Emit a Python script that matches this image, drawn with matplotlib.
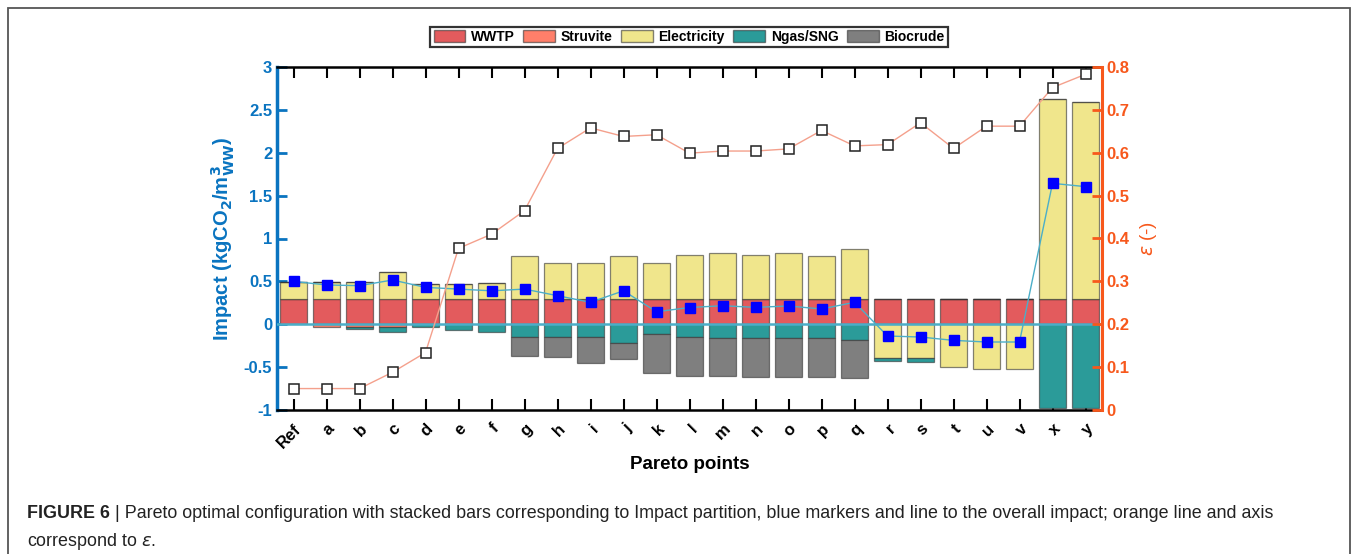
import numpy as np
import matplotlib
matplotlib.use("Agg")
import matplotlib.pyplot as plt
from matplotlib.patches import Patch, Rectangle

plt.rcParams['font.family'] = ['Liberation Sans', 'DejaVu Sans']
plt.rcParams['mathtext.fontset'] = 'dejavusans'

# ---- data ----------------------------------------------------------------
points = ['Ref', 'a', 'b', 'c', 'd', 'e', 'f', 'g', 'h', 'i', 'j', 'k', 'l',
          'm', 'n', 'o', 'p', 'q', 'r', 's', 't', 'u', 'v', 'x', 'y']

wwtp = [0.30] * 25
struvite = [0, -0.035, -0.035, -0.035, 0, 0, 0, 0, 0, 0, 0, 0, 0,
            0, 0, 0, 0, 0, 0, 0, 0, 0, 0, 0, 0]
electricity = [0.196, 0.196, 0.19, 0.313, 0.17, 0.17, 0.185, 0.496, 0.41,
               0.418, 0.496, 0.418, 0.503, 0.527, 0.511, 0.527, 0.496, 0.573,
               -0.394, -0.394, -0.495, -0.518, -0.518, 2.323, 2.292]
ngas = [0, 0, -0.02, -0.06, -0.035, -0.07, -0.087, -0.152, -0.152, -0.15,
        -0.215, -0.115, -0.152, -0.164, -0.164, -0.164, -0.164, -0.184,
        -0.03, -0.05, 0, 0, 0, -0.98, -0.98]
biocrude = [0, 0, 0, 0, 0, 0, 0, -0.215, -0.226, -0.306, -0.185, -0.457,
            -0.452, -0.44, -0.446, -0.446, -0.446, -0.439,
            0, 0, 0, 0, 0, 0, 0]

impact = [0.50, 0.458, 0.45, 0.516, 0.43, 0.41, 0.39, 0.41, 0.333, 0.256,
          0.39, 0.146, 0.195, 0.216, 0.197, 0.213, 0.178, 0.256,
          -0.137, -0.149, -0.188, -0.207, -0.207, 1.643, 1.605]
epsilon = [0.05, 0.05, 0.05, 0.088, 0.134, 0.377, 0.41, 0.465, 0.61, 0.658,
           0.638, 0.642, 0.599, 0.604, 0.604, 0.609, 0.652, 0.616, 0.619,
           0.670, 0.61, 0.662, 0.662, 0.752, 0.783]

series = [('WWTP', wwtp, '#E35B5D'),
          ('Struvite', struvite, '#FF7F6A'),
          ('Electricity', electricity, '#F0E68C'),
          ('Ngas/SNG', ngas, '#2B9B99'),
          ('Biocrude', biocrude, '#7F7F7F')]

BLUE = '#0A74C0'
ORANGE = '#F7581C'

W, H = 1356, 554
fig = plt.figure(figsize=(W / 100, H / 100), dpi=100)

# outer frame around figure + caption
fig.patches.append(Rectangle((8 / W, -0.05), (1350 - 8) / W, 1.05 - 8 / H,
                             transform=fig.transFigure, fill=False,
                             edgecolor='#555555', linewidth=1.3))

ax = fig.add_axes([277 / W, 1 - 410 / H, (1102 - 277) / W, (410 - 67) / H])
x = np.arange(1, len(points) + 1)

# stacked bars, positive and negative parts stacked separately
pos_bottom = np.zeros(len(points))
neg_bottom = np.zeros(len(points))
for name, vals, col in series:
    v = np.asarray(vals, dtype=float)
    bottom = np.where(v >= 0, pos_bottom, neg_bottom)
    ax.bar(x, v, width=0.8, bottom=bottom, color=col,
           edgecolor=(0.2, 0.2, 0.2, 0.6), linewidth=0.9, zorder=2)
    pos_bottom += np.where(v >= 0, v, 0)
    neg_bottom += np.where(v < 0, v, 0)

ax.axhline(0, color='#4BAEC8', linewidth=1.8, zorder=3)
ax.plot(x, impact, color='#4BAEC8', linewidth=1.0, marker='s',
        markersize=6.5, markerfacecolor='#0000FF', markeredgecolor='#0000FF',
        zorder=4)

ax.set_xlim(0.5, len(points) + 0.5)
ax.set_ylim(-1, 3)
ax.set_yticks([-1, -0.5, 0, 0.5, 1, 1.5, 2, 2.5, 3])
ax.set_yticklabels(['-1', '-0.5', '0', '0.5', '1', '1.5', '2', '2.5', '3'])
ax.set_xticks(x)
ax.set_xticklabels(points, rotation=45, ha='right', rotation_mode='anchor',
                   fontweight='bold', fontsize=12)
ax.tick_params(axis='x', direction='in', length=8, width=1.5, top=True,
               colors='black', pad=8)
ax.tick_params(axis='y', direction='in', length=7, width=2, colors=BLUE,
               labelsize=12)
for lab in ax.get_yticklabels():
    lab.set_fontweight('bold')
ax.spines['left'].set_color(BLUE)
ax.spines['left'].set_linewidth(2.5)
ax.spines['right'].set_visible(False)
ax.spines['top'].set_linewidth(1.8)
ax.spines['bottom'].set_linewidth(1.8)

ax.set_ylabel(r'Impact (kgCO$_\mathbf{2}$/m$^\mathbf{3}_\mathbf{WW}$)',
              color=BLUE, fontsize=14.5, fontweight='bold', labelpad=5)
ax.set_xlabel('Pareto points', fontsize=13.5, fontweight='bold', labelpad=4)

ax2 = ax.twinx()
ax2.plot(x, epsilon, color='#F4A08C', linewidth=1.0, marker='s',
         markersize=7, markerfacecolor='white', markeredgecolor='#222222',
         markeredgewidth=1.1, zorder=5)
ax2.set_ylim(0, 0.8)
ax2.set_yticks(np.arange(0, 0.81, 0.1))
ax2.set_yticklabels(['0', '0.1', '0.2', '0.3', '0.4', '0.5', '0.6', '0.7', '0.8'])
ax2.tick_params(axis='y', direction='in', length=7, width=2, colors=ORANGE,
                labelsize=12)
for lab in ax2.get_yticklabels():
    lab.set_fontweight('bold')
ax2.spines['right'].set_color(ORANGE)
ax2.spines['right'].set_linewidth(2.2)
for s in ('left', 'top', 'bottom'):
    ax2.spines[s].set_visible(False)
ax2.set_ylabel(r'$\epsilon$ (-)', color=ORANGE, fontsize=13.5, labelpad=6,
               rotation=90)

handles = [Patch(facecolor=c, edgecolor=(0.2, 0.2, 0.2, 0.6), label=n)
           for n, _, c in series]
leg = fig.legend(handles=handles, loc='center', ncol=5,
                 bbox_to_anchor=(689 / W, 1 - 37 / H),
                 prop={'weight': 'bold', 'size': 10}, frameon=True,
                 fancybox=False, handlelength=2.3, handleheight=0.9,
                 handletextpad=0.4, columnspacing=0.6, borderpad=0.25)
leg.get_frame().set_edgecolor('black')
leg.get_frame().set_linewidth(1.6)

# caption
renderer = fig.canvas.get_renderer()
t1 = fig.text(27 / W, 1 - 513 / H, 'FIGURE 6 ', fontweight='bold',
              fontsize=12.9, va='center', ha='left', color='#222222')
bb = t1.get_window_extent(renderer)
fig.text(bb.x1 / W, 1 - 513 / H,
         '| Pareto optimal configuration with stacked bars corresponding to '
         'Impact partition, blue markers and line to the overall impact; '
         'orange line and axis', fontsize=12.9, va='center', ha='left',
         color='#222222')
fig.text(27 / W, 1 - 542 / H, r'correspond to $\epsilon$.', fontsize=12.9,
         va='center', ha='left', color='#222222')

fig.savefig('out.png', dpi=100)
